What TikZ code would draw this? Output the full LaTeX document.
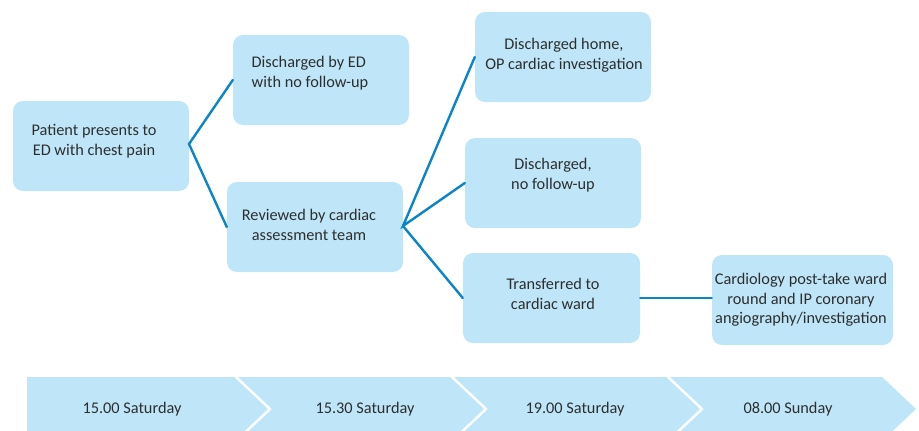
\documentclass[tikz,border=0pt]{standalone}
\usepackage{fontspec}
\setmainfont{Carlito}
\definecolor{boxfill}{HTML}{BEE6F8}
\definecolor{linkblue}{HTML}{0A86C8}
\definecolor{txt}{HTML}{2E2E2E}
\begin{document}
\begin{tikzpicture}[x=1pt,y=-1pt,
  box/.style={draw=none,fill=boxfill,rounded corners=10pt,minimum width=176pt,minimum height=90pt,inner sep=0pt},
  lbl/.style={text=txt,align=center,font=\fontsize{16.3}{19.5}\selectfont,inner sep=0pt},
  link/.style={draw=linkblue,line width=2.4pt,line cap=round,line join=miter}]
\useasboundingbox (0,0) rectangle (919,431);
% boxes
\node[box] (A) at (101,146) {};
\node[box] (B) at (321,80) {};
\node[box] (C) at (315,227) {};
\node[box] (D) at (563,57) {};
\node[box] (E) at (553,183) {};
\node[box,minimum width=177pt] (F) at (551.5,298) {};
\node[box,minimum width=181pt] (G) at (802.5,300) {};
% texts
\node[lbl] (tA) at (94,141) {Patient presents to\\ED with chest pain};
\node[lbl,align=left] (tB) at (310,73) {Discharged by ED\\with no follow-up};
\node[lbl] (tC) at (309,225) {Reviewed by cardiac\\assessment team};
\node[lbl] (tD) at (564,55) {Discharged home,\\OP cardiac investigation};
\node[lbl] (tE) at (553,175) {Discharged,\\no follow-up};
\node[lbl] (tF) at (553,294) {Transferred to\\cardiac ward};
\node[lbl] (tG) at (801,300) {Cardiology post-take ward\\round and IP coronary\\angiography/investigation};
% connectors
\coordinate (Ar) at (189,144);
\coordinate (Cr) at (403,226);
\draw[link] (B.west) -- (Ar) -- (C.west);
\draw[link] (D.west) -- (Cr) -- (E.west);
\draw[link] (Cr) -- (F.west);
\draw[link] (F.east) -- (F.east -| G.west);
% timeline chevrons
\begin{scope}
\clip (0,0) rectangle (919,431);
\fill[boxfill] (27,377) -- (234,377) -- (268,409) -- (234,441) -- (27,441) -- cycle;
\foreach \i in {0,1,2}{
  \fill[boxfill] ({238+216*\i},377) -- ({450+216*\i},377) -- ({484+216*\i},409) -- ({450+216*\i},441) -- ({238+216*\i},441) -- ({272+216*\i},409) -- cycle;
}
\end{scope}
\node[lbl] (t1) at (132,409) {15.00 Saturday};
\node[lbl] (t2) at (365,409) {15.30 Saturday};
\node[lbl] (t3) at (575,409) {19.00 Saturday};
\node[lbl] (t4) at (788,409) {08.00 Sunday};
\end{tikzpicture}
\end{document}
